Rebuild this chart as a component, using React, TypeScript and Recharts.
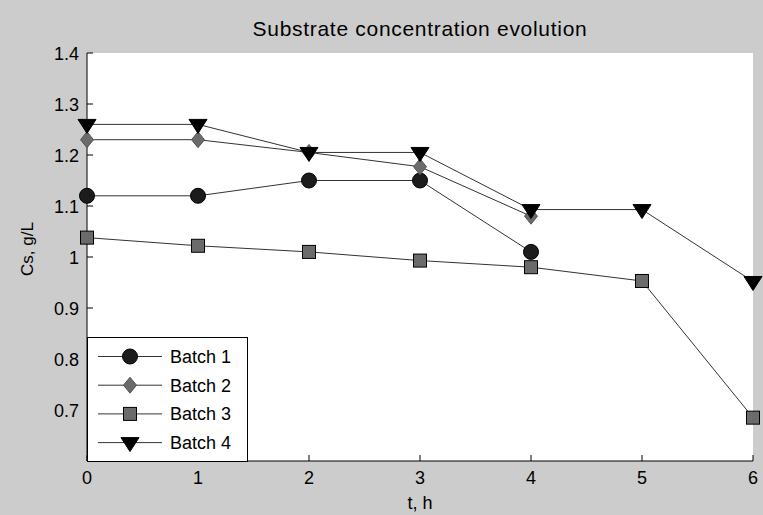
import React from 'react';
import { LineChart, Line, XAxis, YAxis, Legend } from 'recharts';

const times = [0, 1, 2, 3, 4, 5, 6];
const batch1 = [1.12, 1.12, 1.15, 1.15, 1.01, null, null];
const batch2 = [1.23, 1.23, 1.205, 1.177, 1.08, null, null];
const batch3 = [1.038, 1.022, 1.01, 0.993, 0.98, 0.953, 0.685];
const batch4 = [1.26, 1.26, 1.205, 1.205, 1.093, 1.093, 0.952];
const seriesNames = ['Batch 1', 'Batch 2', 'Batch 3', 'Batch 4'];
const xTicks = [0, 1, 2, 3, 4, 5, 6];
const yTicks = [0.7, 0.8, 0.9, 1, 1.1, 1.2, 1.3, 1.4];

const data = times.map((t, i) => ({
    t,
    b1: batch1[i],
    b2: batch2[i],
    b3: batch3[i],
    b4: batch4[i],
}));

const FONT = '"Liberation Sans", Arial, sans-serif';
const LINE = '#333333';

const Marker = ({ shape, cx, cy }: { shape: string; cx: number; cy: number }) => {
    if (shape === 'circle') {
        return <circle cx={cx} cy={cy} r={7.5} fill="#1c1c1c" stroke="#000" strokeWidth={1} />;
    }
    if (shape === 'diamond') {
        const pts = `${cx},${cy - 8} ${cx + 6.5},${cy} ${cx},${cy + 8} ${cx - 6.5},${cy}`;
        return <polygon points={pts} fill="#6b6b6b" stroke="#555" strokeWidth={1} />;
    }
    if (shape === 'square') {
        return <rect x={cx - 6.5} y={cy - 6.5} width={13} height={13} fill="#6b6b6b" stroke="#000" strokeWidth={1} />;
    }
    const pts = `${cx - 9},${cy - 5} ${cx + 9},${cy - 5} ${cx},${cy + 9}`;
    return <polygon points={pts} fill="#000" stroke="#000" strokeWidth={1} />;
};

const shapes = ['circle', 'diamond', 'square', 'triangle'];

const makeDot = (shape: string) => (props: any) => {
    const { cx, cy, index, value } = props;
    if (value == null || cx == null || cy == null) return <g key={`n${index}`} />;
    return (
        <g key={`${shape}${index}`}>
            <Marker shape={shape} cx={cx} cy={cy} />
        </g>
    );
};

const LeftTick = (props: any) => {
    const { x, y, payload } = props;
    return (
        <g>
            <line x1={x} y1={y} x2={x + 6} y2={y} stroke="#000" />
            <text x={x - 8} y={y + 6.5} textAnchor="end" fontSize={18} fontFamily={FONT} fill="#000">
                {payload.value}
            </text>
        </g>
    );
};

const RightTick = (props: any) => {
    const { x, y } = props;
    return <line x1={x} y1={y} x2={x - 6} y2={y} stroke="#000" />;
};

const BottomTick = (props: any) => {
    const { x, y, payload } = props;
    return (
        <g>
            <line x1={x} y1={y} x2={x} y2={y - 6} stroke="#000" />
            <text x={x} y={y + 23} textAnchor="middle" fontSize={18} fontFamily={FONT} fill="#000">
                {payload.value}
            </text>
        </g>
    );
};

const TopTick = (props: any) => {
    const { x, y } = props;
    return <line x1={x} y1={y} x2={x} y2={y + 6} stroke="#000" />;
};

const YLabel = () => {
    const cy = 249;
    return (
        <text
            x={33}
            y={cy}
            transform={`rotate(-90, 33, ${cy})`}
            textAnchor="middle"
            fontSize={17}
            fontFamily={FONT}
            fill="#000"
        >
            Cs, g/L
        </text>
    );
};

const XLabel = (props: any) => {
    const { viewBox } = props;
    const cx = viewBox.x + viewBox.width / 2;
    return (
        <text x={cx} y={viewBox.y + 48} textAnchor="middle" fontSize={18} fontFamily={FONT} fill="#000">
            t, h
        </text>
    );
};

const LegendBox = () => (
    <div
        style={{
            width: 161,
            height: 125,
            boxSizing: 'border-box',
            border: '1px solid #000',
            background: '#fff',
        }}
    >
        <svg width={159} height={123} style={{ display: 'block' }}>
            {seriesNames.map((name, i) => {
                const y = 18.5 + i * 28.7;
                return (
                    <g key={name}>
                        <line x1={10} y1={y} x2={74} y2={y} stroke={LINE} strokeWidth={1} />
                        <Marker shape={shapes[i]} cx={42} cy={y} />
                        <text x={82} y={y + 6.5} fontSize={18} fontFamily={FONT} fill="#000">
                            {name}
                        </text>
                    </g>
                );
            })}
        </svg>
    </div>
);

const App = () => {
    return (
        <div style={{ position: 'absolute', left: 0, top: 0, width: 763, height: 515, background: '#cccccc' }}>
            <div
                style={{
                    position: 'absolute',
                    left: 87,
                    width: 666,
                    top: 17,
                    textAlign: 'center',
                    fontFamily: FONT,
                    fontSize: 21,
                    letterSpacing: 0.7,
                    color: '#000',
                    whiteSpace: 'nowrap',
                }}
            >
                Substrate concentration evolution
            </div>
            <LineChart
                width={763}
                height={515}
                data={data}
                margin={{ top: 53, right: 10, left: 0, bottom: 0 }}
                style={{ position: 'absolute', left: 0, top: 0 }}
            >
                <rect x={87} y={53} width={666} height={408} fill="#fff" />
                <XAxis
                    dataKey="t"
                    type="number"
                    domain={[0, 6]}
                    ticks={xTicks}
                    height={54}
                    axisLine={{ stroke: '#000' }}
                    tickLine={false}
                    tickSize={0}
                    tickMargin={0}
                    tick={<BottomTick />}
                    interval={0}
                    label={<XLabel />}
                />
                <XAxis
                    xAxisId="top"
                    orientation="top"
                    dataKey="t"
                    type="number"
                    domain={[0, 6]}
                    ticks={xTicks}
                    height={0}
                    axisLine={{ stroke: '#000' }}
                    tickLine={false}
                    tickSize={0}
                    tickMargin={0}
                    tick={<TopTick />}
                    interval={0}
                />
                <YAxis
                    type="number"
                    domain={[0.6, 1.4]}
                    ticks={yTicks}
                    width={87}
                    axisLine={{ stroke: '#000' }}
                    tickLine={false}
                    tickSize={0}
                    tickMargin={0}
                    tick={<LeftTick />}
                    interval={0}
                    allowDataOverflow
                    label={<YLabel />}
                />
                <YAxis
                    yAxisId="right"
                    orientation="right"
                    type="number"
                    domain={[0.6, 1.4]}
                    ticks={yTicks}
                    width={0}
                    axisLine={{ stroke: '#000' }}
                    tickLine={false}
                    tickSize={0}
                    tickMargin={0}
                    tick={<RightTick />}
                    interval={0}
                    allowDataOverflow
                />
                <Line type="linear" dataKey="b1" name={seriesNames[0]} stroke={LINE} strokeWidth={1} dot={makeDot('circle')} activeDot={false} isAnimationActive={false} />
                <Line type="linear" dataKey="b2" name={seriesNames[1]} stroke={LINE} strokeWidth={1} dot={makeDot('diamond')} activeDot={false} isAnimationActive={false} />
                <Line type="linear" dataKey="b3" name={seriesNames[2]} stroke={LINE} strokeWidth={1} dot={makeDot('square')} activeDot={false} isAnimationActive={false} />
                <Line type="linear" dataKey="b4" name={seriesNames[3]} stroke={LINE} strokeWidth={1} dot={makeDot('triangle')} activeDot={false} isAnimationActive={false} />
                <Legend
                    layout="horizontal"
                    verticalAlign="middle"
                    align="center"
                    content={<LegendBox />}
                    wrapperStyle={{ left: 87, top: 337, width: 161, height: 125, right: 'auto', bottom: 'auto' }}
                />
            </LineChart>
        </div>
    );
};

export default App;
